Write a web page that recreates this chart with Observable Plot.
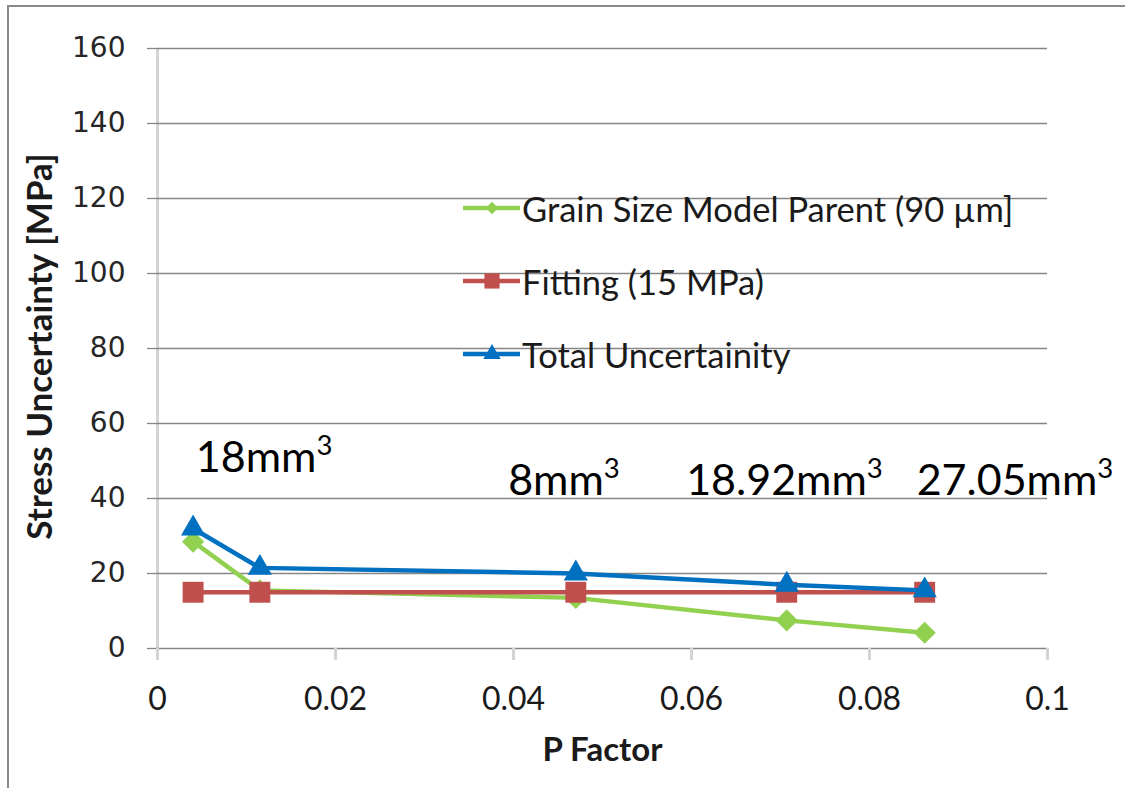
<!DOCTYPE html>
<html>
<head>
<meta charset="utf-8">
<script src="https://cdn.jsdelivr.net/npm/d3@7"></script>
<script src="https://cdn.jsdelivr.net/npm/@observablehq/plot@0.6"></script>
<style>
  html, body { margin: 0; padding: 0; background: #fff; }
  #wrap { position: relative; width: 1125px; height: 788px; overflow: hidden; }
  #border { position: absolute; left: 7px; top: 5px; width: 1130px; height: 800px;
            border: 2px solid #8a8a8a; box-sizing: border-box; pointer-events: none; }
  .legend-row { position: absolute; left: 462px; height: 40px; display: flex; align-items: center;
                font-family: Lato, sans-serif; font-size: 34.5px; color: #1a1a1a; white-space: nowrap; }
</style>
</head>
<body>
<div id="wrap"><div id="border"></div></div>
<script>
// P factor of each sample and the stress uncertainty contributions (MPa)
const pFactor   = [0.0040, 0.0115, 0.0470, 0.0707, 0.0862];
const grainSize = [28.5, 15.5, 13.5, 7.5, 4.2];
const fitting   = [15, 15, 15, 15, 15];
const total     = [32.0, 21.5, 20.0, 17.0, 15.5];

const seriesNames   = ["Grain Size Model Parent (90 µm]", "Fitting (15 MPa)", "Total Uncertainity"];
const seriesColors  = ["#92D050", "#C0504D", "#0070C0"];
const seriesSymbols = ["diamond2", "square", "triangle"];

// Gauge volume notes, anchored in data units (P factor, MPa)
const volumeLabels = ["18mm³", "8mm³", "18.92mm³", "27.05mm³"];
const volumeLabelX = [0.0043, 0.0394, 0.0594, 0.0853];
const volumeLabelY = [47, 41, 41, 41];

const xTicks = [0, 0.02, 0.04, 0.06, 0.08, 0.1];
const yTicks = [0, 20, 40, 60, 80, 100, 120, 140, 160];

const seriesValues = [grainSize, fitting, total];
const rows = seriesNames.flatMap((name, s) =>
  pFactor.map((p, i) => ({series: name, p, v: seriesValues[s][i]})));

const markerRadius = [10, 11.8, 9];
const seriesMarks = seriesNames.flatMap((name, s) => {
  const data = rows.filter((d) => d.series === name);
  return [
    Plot.line(data, {x: "p", y: "v", stroke: "series", strokeWidth: 4.5}),
    Plot.dot(data, {x: "p", y: "v", symbol: "series", fill: "series", stroke: "none", r: markerRadius[s]})
  ];
});

const chart = Plot.plot({
  width: 1125,
  height: 788,
  marginLeft: 157,
  marginRight: 78,
  marginTop: 48,
  marginBottom: 140,
  x: {domain: [0, 0.1]},
  y: {domain: [0, 160]},
  color: {domain: seriesNames, range: seriesColors},
  symbol: {domain: seriesNames, range: seriesSymbols},
  marks: [
    Plot.ruleX([0], {stroke: "#d4d4d4", strokeWidth: 3, insetBottom: -12}),
    Plot.gridY(yTicks, {stroke: "#868686", strokeOpacity: 1, strokeWidth: 1.3}),
    Plot.axisY(yTicks, {tickSize: 10, tickPadding: 22, stroke: "#868686", strokeWidth: 1.3,
                        fill: "#262626", fontFamily: "DejaVu Sans", fontSize: 28,
                        tickFormat: (d) => String(d), label: null}),
    Plot.axisX(xTicks, {tickSize: 12, tickPadding: 27, stroke: "#d4d4d4", strokeWidth: 3,
                        fill: "#1a1a1a", fontFamily: "Lato", fontSize: 32,
                        tickFormat: (d) => String(d), label: null}),
    ...seriesMarks,
    Plot.text(volumeLabels, {x: (d, i) => volumeLabelX[i], y: (d, i) => volumeLabelY[i], text: (d) => d,
                             textAnchor: "start", lineAnchor: "bottom", fontFamily: "Lato",
                             fontSize: 43, fill: "#000"}),
    Plot.text(["P Factor"], {text: (d) => d, frameAnchor: "bottom", dy: 112, textAnchor: "middle",
                             fontFamily: "Lato", fontWeight: "bold", fontSize: 33, fill: "#1a1a1a"}),
    Plot.text(["Stress Uncertainty [MPa]"], {text: (d) => d, frameAnchor: "left", dx: -117, dy: -2, rotate: -90,
                             textAnchor: "middle", fontFamily: "Lato", fontWeight: "bold",
                             fontSize: 35, fill: "#1a1a1a"})
  ]
});

// Set the cubic-unit exponent of the volume notes as a raised, smaller digit
d3.select(chart).selectAll("text").each(function () {
  const t = this.textContent;
  if (this.childElementCount === 0 && /mm³$/.test(t)) {
    const sel = d3.select(this);
    sel.text(t.slice(0, -1));
    sel.append("tspan").attr("font-size", "0.64em").attr("dy", "-0.62em").text("3");
  }
});

const wrap = d3.select("#wrap");
wrap.node().insertBefore(chart, wrap.node().firstChild);

// Legend drawn inside the plot area, one row per series
const legendSymbols = [d3.symbolDiamond2, d3.symbolSquare, d3.symbolTriangle];
const legendSizes = [100, 230, 130];
seriesNames.forEach((name, i) => {
  const row = wrap.append("div").attr("class", "legend-row").style("top", `${188 + i * 73}px`);
  const sw = row.append("svg").attr("width", 60).attr("height", 40);
  sw.append("line").attr("x1", 1).attr("x2", 58).attr("y1", 20).attr("y2", 20)
    .attr("stroke", seriesColors[i]).attr("stroke-width", 4.5);
  sw.append("path").attr("transform", "translate(30,20)")
    .attr("d", d3.symbol(legendSymbols[i], legendSizes[i])()).attr("fill", seriesColors[i]);
  row.append("span").text(name);
});
</script>
</body>
</html>
